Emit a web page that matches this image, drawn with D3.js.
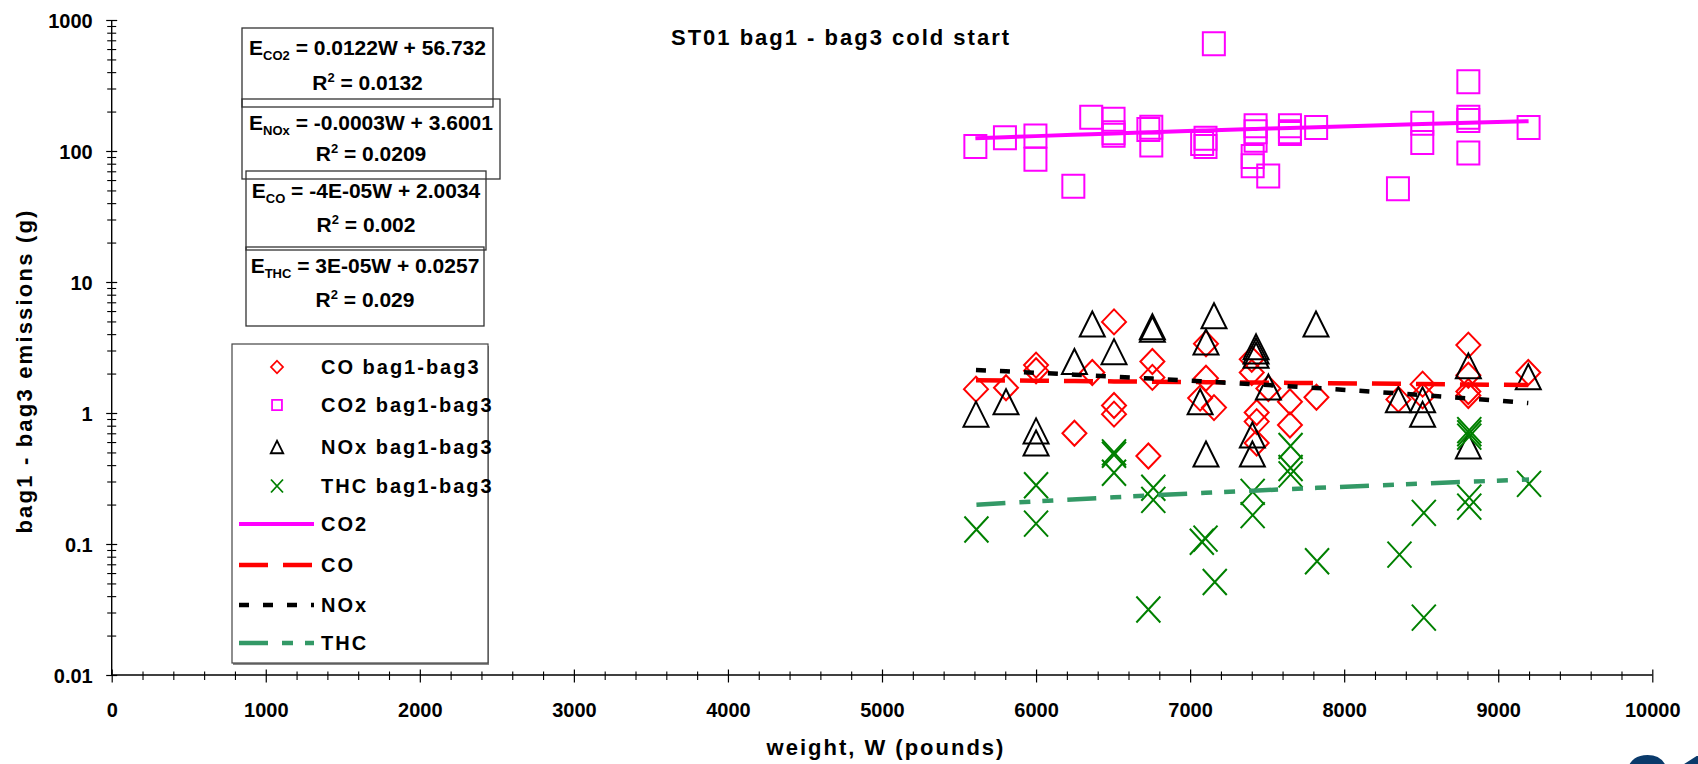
<!DOCTYPE html>
<html>
<head>
<meta charset="utf-8">
<script src="https://cdn.jsdelivr.net/npm/d3@7"></script>
<style>
  body { margin: 0; background: #fff; }
  svg text { font-family: "Liberation Sans", Arial, Helvetica, sans-serif; font-weight: bold; fill: #000; }
</style>
</head>
<body>
<svg id="chart" width="1698" height="764"></svg>
<script>
// ---- data: vehicle weight (lb) and bag1-bag3 emissions (g) ----
const coW   = [5610,5805,6000,6000,6249,6365,6506,6506,6506,6729,6755,6755,7103,7103,7065,7155,7400,7400,7432,7432,7432,7508,7648,7648,7820,8352,8509,8509,8806,8806,8806,8806,9195];
const coVal = [1.52,1.56,2.32,2.10,0.70,2.04,4.96,1.14,0.98,0.47,2.47,1.87,3.38,1.84,1.30,1.10,2.57,2.04,1.01,0.86,0.59,1.54,1.22,0.81,1.32,1.27,1.66,1.35,3.30,1.94,1.46,1.36,2.04];

const co2W   = [5606,5798,5996,5996,6358,6242,6503,6503,6503,6729,6748,6748,7154,7078,7100,7100,7425,7425,7425,7406,7406,7507,7648,7648,7648,7818,8349,8507,8507,8806,8806,8806,8806,9197];
const co2Val = [108,126,130,86.5,181,53.7,175,138,132,146,152,111,659,114,108,125,156,140,121,90.6,77.2,64.4,156,140,136,151,51.5,163,116,338,181,171,96.6,151];

const noxW   = [5610,5805,6000,6000,6249,6365,6506,6755,6755,7155,7103,7065,7103,7428,7428,7428,7508,7404,7404,7817,8352,8509,8509,8806,8806,9195];
const noxVal = [0.98,1.22,0.73,0.59,2.47,4.78,2.94,4.56,4.35,5.53,3.48,1.22,0.486,3.2,2.98,2.76,1.58,0.68,0.486,4.78,1.26,1.26,0.977,2.29,0.56,1.89];

const thcW   = [5613,6000,6000,6506,6506,6506,6729,6761,6761,7076,7100,7160,7406,7406,7652,7652,7652,7824,8359,8517,8517,8812,8812,8812,8812,8812,9200];
const thcVal = [0.129,0.281,0.143,0.50,0.48,0.35,0.0316,0.269,0.217,0.104,0.110,0.0513,0.25,0.166,0.56,0.38,0.34,0.0738,0.083,0.173,0.0274,0.74,0.70,0.66,0.226,0.193,0.288];

// linear trend fits E = a*W + b (order: CO2, CO, NOx, THC)
const trendNames     = ["CO2", "CO", "NOx", "THC"];
const trendSlope     = [0.0122, -0.00004, -0.000262, 0.000031];
const trendIntercept = [56.732, 2.0034, 3.6001, 0.0257];

// fit annotations (order as stacked on the chart)
const eqSub  = ["CO2", "NOx", "CO", "THC"];
const eqRhs  = [" = 0.0122W + 56.732", " = -0.0003W + 3.6001", " = -4E-05W + 2.0034", " = 3E-05W + 0.0257"];
const eqR2   = ["0.0132", "0.0209", "0.002", "0.029"];

// axis ticks
const xTickValues = [0,1000,2000,3000,4000,5000,6000,7000,8000,9000,10000];
const yTickValues = [0.01, 0.1, 1, 10, 100, 1000];
const yTickLabels = ["0.01", "0.1", "1", "10", "100", "1000"];

const legendLabels = ["CO bag1-bag3", "CO2 bag1-bag3", "NOx bag1-bag3", "THC bag1-bag3", "CO2", "CO", "NOx", "THC"];

// ---- layout ----
const svg = d3.select("#chart");
const x = d3.scaleLinear().domain([0, 10000]).range([111.7, 1652.3]);
const y = d3.scaleLog().domain([0.01, 1000]).range([675, 20]);

const col = { co: "#ff0000", co2: "#ff00ff", nox: "#000000", thc: "#008000", thcLine: "#339966" };

// marker shapes centred on the point
const shapes = {
  diamond: s => `M0,${-12.5*s}L${12*s},0L0,${12.5*s}L${-12*s},0Z`,
  square: s => `M${-11*s},${-11.5*s}H${11*s}V${11.5*s}H${-11*s}Z`,
  triangle: s => `M0,${-12.5*s}L${12.5*s},${12.5*s}H${-12.5*s}Z`,
  cross: s => `M${-12*s},${-13*s}L${12*s},${13*s}M${12*s},${-13*s}L${-12*s},${13*s}`
};

// ---- axes ----
const gx = svg.append("g").attr("transform", `translate(0,${y(0.01)})`);
gx.call(d3.axisBottom(x).tickValues(xTickValues).tickSize(0).tickFormat(d3.format("d")));
gx.attr("font-family", null).attr("font-size", null);
gx.select(".domain").remove();
gx.selectAll(".tick text").attr("y", 42).attr("dy", 0).style("font-size", "20px");
gx.selectAll(".tick").append("line").attr("y1", -5.5).attr("y2", 7.5).attr("stroke", "#000").attr("stroke-width", 1.2);

const xMinor = d3.range(0, 10001, 200).filter(v => v % 1000 !== 0);
const gxm = svg.append("g").attr("transform", `translate(0,${y(0.01)})`);
gxm.call(d3.axisBottom(x).tickValues(xMinor).tickSize(0).tickFormat(""));
gxm.select(".domain").remove();
gxm.selectAll(".tick").append("line").attr("y1", -3.5).attr("y2", 5).attr("stroke", "#000").attr("stroke-width", 1.1);

const gy = svg.append("g").attr("transform", `translate(${x(0)},0)`);
gy.call(d3.axisLeft(y).tickValues(yTickValues).tickSize(0).tickFormat((d, i) => yTickLabels[i]));
gy.attr("font-family", null).attr("font-size", null);
gy.select(".domain").remove();
gy.selectAll(".tick text").attr("x", -19).attr("dy", "0.36em").style("font-size", "20px");
gy.selectAll(".tick").append("line").attr("x1", -5.5).attr("x2", 5.5).attr("stroke", "#000").attr("stroke-width", 1.2);

const yMinor = y.ticks().filter(v => !yTickValues.some(t => Math.abs(t - v) / t < 1e-9));
const gym = svg.append("g").attr("transform", `translate(${x(0)},0)`);
gym.call(d3.axisLeft(y).tickValues(yMinor).tickSize(0).tickFormat(""));
gym.select(".domain").remove();
gym.selectAll(".tick").append("line").attr("x1", -4.5).attr("x2", 4.5).attr("stroke", "#000").attr("stroke-width", 1.1);

svg.append("line").attr("x1", x(0)).attr("x2", x(10000)).attr("y1", y(0.01)).attr("y2", y(0.01))
  .attr("stroke", "#000").attr("stroke-width", 1.4);
svg.append("line").attr("x1", x(0)).attr("x2", x(0)).attr("y1", y(1000)).attr("y2", y(0.01))
  .attr("stroke", "#000").attr("stroke-width", 1.4);

// ---- titles ----
svg.append("text").attr("x", 841).attr("y", 45).attr("text-anchor", "middle")
  .style("font-size", "22px").style("letter-spacing", "2px").text("ST01 bag1 - bag3 cold start");
svg.append("text").attr("x", 886).attr("y", 755).attr("text-anchor", "middle")
  .style("font-size", "22px").style("letter-spacing", "2px").text("weight, W (pounds)");
svg.append("text").attr("transform", "translate(32,371) rotate(-90)").attr("text-anchor", "middle")
  .style("font-size", "22px").style("letter-spacing", "2.2px").text("bag1 - bag3 emissions (g)");

// ---- markers ----
function scatter(ws, vs, shape, color, sw) {
  svg.append("g").selectAll("path").data(ws.map((w, i) => [w, vs[i]])).join("path")
    .attr("transform", d => `translate(${x(d[0])},${y(d[1])})`)
    .attr("d", shapes[shape](1))
    .attr("fill", "none").attr("stroke", color).attr("stroke-width", sw);
}
scatter(coW, coVal, "diamond", col.co, 2);
scatter(co2W, co2Val, "square", col.co2, 2);
scatter(noxW, noxVal, "triangle", col.nox, 2);
scatter(thcW, thcVal, "cross", col.thc, 2);

// ---- trend lines ----
const trendStyle = [
  { ws: co2W, color: col.co2, dash: null, width: 4 },
  { ws: coW, color: col.co, dash: "29,15", width: 4.5 },
  { ws: noxW, color: col.nox, dash: "10,14", width: 4.5 },
  { ws: thcW, color: col.thcLine, dash: "29,14,11,12,11,14", width: 4.5 }
];
trendStyle.forEach((s, i) => {
  const pts = Array.from(new Set(s.ws)).sort((a, b) => a - b);
  const line = d3.line().x(w => x(w)).y(w => y(trendSlope[i] * w + trendIntercept[i]));
  svg.append("path").attr("d", line(pts)).attr("fill", "none")
    .attr("stroke", s.color).attr("stroke-width", s.width)
    .attr("stroke-dasharray", s.dash);
});

// ---- fit annotation boxes ----
const eqBoxes = [
  { x0: 242, x1: 493, y0: 28, y1: 107, cx: 367.5, b1: 55, b2: 90 },
  { x0: 242, x1: 500, y0: 99, y1: 179, cx: 371, b1: 130, b2: 161 },
  { x0: 246, x1: 486, y0: 171, y1: 250, cx: 366, b1: 198, b2: 232 },
  { x0: 246, x1: 484, y0: 247, y1: 326, cx: 365, b1: 273, b2: 307 }
];
eqBoxes.forEach((b, i) => {
  svg.append("rect").attr("x", b.x0).attr("y", b.y0).attr("width", b.x1 - b.x0).attr("height", b.y1 - b.y0)
    .attr("fill", "none").attr("stroke", "#333").attr("stroke-width", 1.3);
  const t1 = svg.append("text").attr("x", b.cx).attr("y", b.b1).attr("text-anchor", "middle").style("font-size", "21px");
  t1.append("tspan").text("E");
  t1.append("tspan").attr("dy", 5).style("font-size", "13px").text(eqSub[i]);
  t1.append("tspan").attr("dy", -5).text(eqRhs[i]);
  const t2 = svg.append("text").attr("x", b.cx).attr("y", b.b2).attr("text-anchor", "middle").style("font-size", "21px");
  t2.append("tspan").text("R");
  t2.append("tspan").attr("dy", -8).style("font-size", "13px").text("2");
  t2.append("tspan").attr("dy", 8).text(" = " + eqR2[i]);
});

// ---- legend ----
svg.append("rect").attr("x", 233).attr("y", 346).attr("width", 256).attr("height", 319).attr("fill", "#888");
svg.append("rect").attr("x", 232).attr("y", 344).attr("width", 256).attr("height", 319)
  .attr("fill", "#fff").attr("stroke", "#444").attr("stroke-width", 1.2);
const legendRows = [367, 405, 447, 486, 524, 565, 605, 643];
const legendMarks = [
  { shape: "diamond", color: col.co }, { shape: "square", color: col.co2 },
  { shape: "triangle", color: col.nox }, { shape: "cross", color: col.thc }
];
legendMarks.forEach((m, i) => {
  svg.append("path").attr("transform", `translate(277,${legendRows[i]})`)
    .attr("d", shapes[m.shape](m.shape === "square" ? 0.45 : 0.5))
    .attr("fill", "none").attr("stroke", m.color).attr("stroke-width", 1.8);
});
trendStyle.forEach((s, i) => {
  svg.append("line").attr("x1", 239).attr("x2", 314).attr("y1", legendRows[4 + i]).attr("y2", legendRows[4 + i])
    .attr("stroke", s.color).attr("stroke-width", s.width).attr("stroke-dasharray", s.dash);
});
legendLabels.forEach((t, i) => {
  svg.append("text").attr("x", 321).attr("y", legendRows[i]).attr("dy", "0.36em")
    .style("font-size", "20px").style("letter-spacing", "2px").text(t);
});

// ---- slide number ----
svg.append("text").attr("x", 1621).attr("y", 821).style("font-size", "95px").style("fill", "#0a3a6b").text("01");
</script>
</body>
</html>
